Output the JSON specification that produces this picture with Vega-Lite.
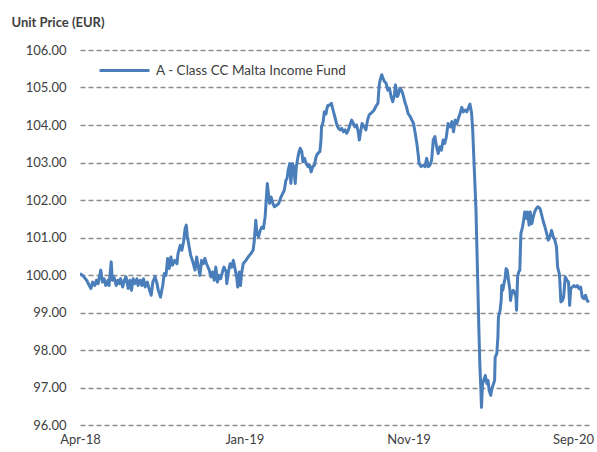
{
  "$schema": "https://vega.github.io/schema/vega-lite/v6.json",
  "width": 511,
  "height": 375,
  "autosize": {"type": "none"},
  "padding": {"left": 80, "top": 50, "right": 6, "bottom": 27},
  "background": "white",
  "config": {
    "font": "Lato",
    "view": {"stroke": null}
  },
  "data": {
    "values": [
      {"date": "2018-04-02", "price": 100.04},
      {"date": "2018-04-08", "price": 99.97},
      {"date": "2018-04-14", "price": 99.86},
      {"date": "2018-04-19", "price": 99.72},
      {"date": "2018-04-22", "price": 99.64},
      {"date": "2018-04-25", "price": 99.81},
      {"date": "2018-04-29", "price": 99.72},
      {"date": "2018-05-02", "price": 99.86},
      {"date": "2018-05-05", "price": 99.77},
      {"date": "2018-05-10", "price": 100.13},
      {"date": "2018-05-13", "price": 99.81},
      {"date": "2018-05-16", "price": 99.9},
      {"date": "2018-05-19", "price": 99.72},
      {"date": "2018-05-23", "price": 99.86},
      {"date": "2018-05-25", "price": 99.72},
      {"date": "2018-05-29", "price": 100.35},
      {"date": "2018-05-31", "price": 99.86},
      {"date": "2018-06-03", "price": 99.95},
      {"date": "2018-06-07", "price": 99.72},
      {"date": "2018-06-10", "price": 99.86},
      {"date": "2018-06-13", "price": 99.77},
      {"date": "2018-06-15", "price": 99.9},
      {"date": "2018-06-19", "price": 99.68},
      {"date": "2018-06-22", "price": 99.86},
      {"date": "2018-06-25", "price": 99.95},
      {"date": "2018-06-29", "price": 99.64},
      {"date": "2018-07-02", "price": 99.86},
      {"date": "2018-07-05", "price": 99.59},
      {"date": "2018-07-08", "price": 99.9},
      {"date": "2018-07-11", "price": 99.77},
      {"date": "2018-07-15", "price": 99.9},
      {"date": "2018-07-17", "price": 99.72},
      {"date": "2018-07-21", "price": 99.86},
      {"date": "2018-07-24", "price": 99.72},
      {"date": "2018-07-27", "price": 99.9},
      {"date": "2018-07-30", "price": 99.68},
      {"date": "2018-08-03", "price": 99.81},
      {"date": "2018-08-07", "price": 99.59},
      {"date": "2018-08-10", "price": 99.46},
      {"date": "2018-08-13", "price": 99.81},
      {"date": "2018-08-17", "price": 99.95},
      {"date": "2018-08-20", "price": 99.81},
      {"date": "2018-08-23", "price": 99.59},
      {"date": "2018-08-27", "price": 99.41},
      {"date": "2018-08-31", "price": 99.72},
      {"date": "2018-09-03", "price": 100.04},
      {"date": "2018-09-06", "price": 99.99},
      {"date": "2018-09-09", "price": 100.44},
      {"date": "2018-09-12", "price": 100.17},
      {"date": "2018-09-15", "price": 100.48},
      {"date": "2018-09-18", "price": 100.26},
      {"date": "2018-09-22", "price": 100.39},
      {"date": "2018-09-26", "price": 100.3},
      {"date": "2018-09-28", "price": 100.57},
      {"date": "2018-10-02", "price": 100.79},
      {"date": "2018-10-05", "price": 100.66},
      {"date": "2018-10-08", "price": 100.88},
      {"date": "2018-10-11", "price": 101.24},
      {"date": "2018-10-13", "price": 101.33},
      {"date": "2018-10-15", "price": 101.02},
      {"date": "2018-10-19", "price": 100.7},
      {"date": "2018-10-21", "price": 100.53},
      {"date": "2018-10-25", "price": 100.35},
      {"date": "2018-10-29", "price": 100.13},
      {"date": "2018-11-01", "price": 100.48},
      {"date": "2018-11-04", "price": 100.21},
      {"date": "2018-11-07", "price": 99.99},
      {"date": "2018-11-10", "price": 100.39},
      {"date": "2018-11-13", "price": 100.3},
      {"date": "2018-11-16", "price": 100.44},
      {"date": "2018-11-19", "price": 100.3},
      {"date": "2018-11-24", "price": 100.13},
      {"date": "2018-11-27", "price": 99.95},
      {"date": "2018-11-30", "price": 100.08},
      {"date": "2018-12-03", "price": 99.86},
      {"date": "2018-12-06", "price": 100.21},
      {"date": "2018-12-09", "price": 99.81},
      {"date": "2018-12-12", "price": 99.99},
      {"date": "2018-12-15", "price": 99.9},
      {"date": "2018-12-19", "price": 100.13},
      {"date": "2018-12-21", "price": 100.21},
      {"date": "2018-12-25", "price": 100.08},
      {"date": "2018-12-26", "price": 99.77},
      {"date": "2018-12-29", "price": 100.08},
      {"date": "2019-01-01", "price": 100.3},
      {"date": "2019-01-04", "price": 100.21},
      {"date": "2019-01-07", "price": 100.39},
      {"date": "2019-01-10", "price": 100.17},
      {"date": "2019-01-13", "price": 99.95},
      {"date": "2019-01-15", "price": 99.68},
      {"date": "2019-01-18", "price": 100.08},
      {"date": "2019-01-20", "price": 99.72},
      {"date": "2019-01-22", "price": 100.04},
      {"date": "2019-01-25", "price": 100.3},
      {"date": "2019-01-30", "price": 100.39},
      {"date": "2019-02-03", "price": 100.48},
      {"date": "2019-02-08", "price": 100.57},
      {"date": "2019-02-12", "price": 100.66},
      {"date": "2019-02-14", "price": 100.88},
      {"date": "2019-02-17", "price": 101.46},
      {"date": "2019-02-19", "price": 101.11},
      {"date": "2019-02-22", "price": 101.02},
      {"date": "2019-02-25", "price": 101.19},
      {"date": "2019-02-28", "price": 101.28},
      {"date": "2019-03-03", "price": 101.24},
      {"date": "2019-03-06", "price": 101.55},
      {"date": "2019-03-08", "price": 102.0},
      {"date": "2019-03-10", "price": 102.44},
      {"date": "2019-03-12", "price": 102.17},
      {"date": "2019-03-14", "price": 101.91},
      {"date": "2019-03-17", "price": 102.08},
      {"date": "2019-03-20", "price": 101.91},
      {"date": "2019-03-23", "price": 101.82},
      {"date": "2019-03-27", "price": 101.86},
      {"date": "2019-03-31", "price": 101.91},
      {"date": "2019-04-04", "price": 102.08},
      {"date": "2019-04-07", "price": 102.17},
      {"date": "2019-04-10", "price": 102.26},
      {"date": "2019-04-13", "price": 102.53},
      {"date": "2019-04-15", "price": 102.57},
      {"date": "2019-04-17", "price": 102.79},
      {"date": "2019-04-20", "price": 102.97},
      {"date": "2019-04-22", "price": 102.44},
      {"date": "2019-04-25", "price": 102.97},
      {"date": "2019-04-27", "price": 102.89},
      {"date": "2019-04-30", "price": 102.44},
      {"date": "2019-05-02", "price": 102.89},
      {"date": "2019-05-05", "price": 103.15},
      {"date": "2019-05-07", "price": 103.29},
      {"date": "2019-05-09", "price": 103.38},
      {"date": "2019-05-12", "price": 103.29},
      {"date": "2019-05-14", "price": 103.02},
      {"date": "2019-05-17", "price": 103.11},
      {"date": "2019-05-20", "price": 102.97},
      {"date": "2019-05-23", "price": 102.89},
      {"date": "2019-05-26", "price": 102.93},
      {"date": "2019-05-29", "price": 102.75},
      {"date": "2019-06-01", "price": 102.89},
      {"date": "2019-06-04", "price": 102.93},
      {"date": "2019-06-07", "price": 103.15},
      {"date": "2019-06-10", "price": 103.24},
      {"date": "2019-06-14", "price": 103.29},
      {"date": "2019-06-16", "price": 103.6},
      {"date": "2019-06-17", "price": 103.95},
      {"date": "2019-06-20", "price": 104.09},
      {"date": "2019-06-22", "price": 104.35},
      {"date": "2019-06-25", "price": 104.29},
      {"date": "2019-06-27", "price": 104.45},
      {"date": "2019-06-29", "price": 104.53},
      {"date": "2019-07-02", "price": 104.53},
      {"date": "2019-07-05", "price": 104.58},
      {"date": "2019-07-08", "price": 104.4},
      {"date": "2019-07-12", "price": 104.18},
      {"date": "2019-07-15", "price": 104.0},
      {"date": "2019-07-18", "price": 103.91},
      {"date": "2019-07-21", "price": 103.87},
      {"date": "2019-07-24", "price": 103.91},
      {"date": "2019-07-27", "price": 103.82},
      {"date": "2019-07-30", "price": 103.87},
      {"date": "2019-08-02", "price": 103.78},
      {"date": "2019-08-05", "price": 103.87},
      {"date": "2019-08-08", "price": 104.0},
      {"date": "2019-08-11", "price": 104.13},
      {"date": "2019-08-14", "price": 104.04},
      {"date": "2019-08-17", "price": 103.95},
      {"date": "2019-08-20", "price": 104.0},
      {"date": "2019-08-23", "price": 103.82},
      {"date": "2019-08-25", "price": 103.6},
      {"date": "2019-08-28", "price": 103.87},
      {"date": "2019-08-30", "price": 104.04},
      {"date": "2019-09-03", "price": 103.95},
      {"date": "2019-09-06", "price": 103.87},
      {"date": "2019-09-09", "price": 104.13},
      {"date": "2019-09-12", "price": 104.27},
      {"date": "2019-09-15", "price": 104.31},
      {"date": "2019-09-18", "price": 104.35},
      {"date": "2019-09-21", "price": 104.4},
      {"date": "2019-09-24", "price": 104.49},
      {"date": "2019-09-28", "price": 104.58},
      {"date": "2019-09-30", "price": 105.02},
      {"date": "2019-10-02", "price": 105.2},
      {"date": "2019-10-05", "price": 105.34},
      {"date": "2019-10-07", "price": 105.25},
      {"date": "2019-10-10", "price": 105.16},
      {"date": "2019-10-13", "price": 105.11},
      {"date": "2019-10-16", "price": 104.93},
      {"date": "2019-10-19", "price": 104.98},
      {"date": "2019-10-22", "price": 104.76},
      {"date": "2019-10-25", "price": 104.62},
      {"date": "2019-10-28", "price": 104.8},
      {"date": "2019-10-30", "price": 105.07},
      {"date": "2019-11-02", "price": 104.76},
      {"date": "2019-11-04", "price": 104.8},
      {"date": "2019-11-07", "price": 104.98},
      {"date": "2019-11-10", "price": 104.93},
      {"date": "2019-11-13", "price": 104.8},
      {"date": "2019-11-16", "price": 104.62},
      {"date": "2019-11-19", "price": 104.49},
      {"date": "2019-11-22", "price": 104.31},
      {"date": "2019-11-26", "price": 104.22},
      {"date": "2019-11-29", "price": 104.13},
      {"date": "2019-12-02", "price": 104.04},
      {"date": "2019-12-05", "price": 103.78},
      {"date": "2019-12-08", "price": 103.51},
      {"date": "2019-12-11", "price": 103.15},
      {"date": "2019-12-12", "price": 102.97},
      {"date": "2019-12-16", "price": 102.89},
      {"date": "2019-12-20", "price": 102.93},
      {"date": "2019-12-23", "price": 102.89},
      {"date": "2019-12-26", "price": 103.11},
      {"date": "2019-12-29", "price": 102.89},
      {"date": "2020-01-01", "price": 102.93},
      {"date": "2020-01-04", "price": 103.06},
      {"date": "2020-01-07", "price": 103.6},
      {"date": "2020-01-10", "price": 103.69},
      {"date": "2020-01-13", "price": 103.42},
      {"date": "2020-01-16", "price": 103.24},
      {"date": "2020-01-19", "price": 103.42},
      {"date": "2020-01-22", "price": 103.33},
      {"date": "2020-01-25", "price": 103.6},
      {"date": "2020-01-28", "price": 103.51},
      {"date": "2020-01-31", "price": 103.69},
      {"date": "2020-02-03", "price": 104.04},
      {"date": "2020-02-07", "price": 103.95},
      {"date": "2020-02-10", "price": 104.09},
      {"date": "2020-02-13", "price": 103.82},
      {"date": "2020-02-16", "price": 104.13},
      {"date": "2020-02-19", "price": 104.04},
      {"date": "2020-02-22", "price": 104.18},
      {"date": "2020-02-25", "price": 104.31},
      {"date": "2020-02-28", "price": 104.47},
      {"date": "2020-03-02", "price": 104.35},
      {"date": "2020-03-05", "price": 104.4},
      {"date": "2020-03-08", "price": 104.35},
      {"date": "2020-03-11", "price": 104.45},
      {"date": "2020-03-14", "price": 104.56},
      {"date": "2020-03-17", "price": 104.31},
      {"date": "2020-03-19", "price": 103.87},
      {"date": "2020-03-21", "price": 103.15},
      {"date": "2020-03-23", "price": 102.44},
      {"date": "2020-03-25", "price": 101.73},
      {"date": "2020-03-26", "price": 101.11},
      {"date": "2020-03-28", "price": 99.95},
      {"date": "2020-03-30", "price": 98.7},
      {"date": "2020-04-01", "price": 97.63},
      {"date": "2020-04-03", "price": 96.92},
      {"date": "2020-04-04", "price": 96.47},
      {"date": "2020-04-06", "price": 97.1},
      {"date": "2020-04-08", "price": 97.19},
      {"date": "2020-04-11", "price": 97.32},
      {"date": "2020-04-14", "price": 97.1},
      {"date": "2020-04-16", "price": 97.19},
      {"date": "2020-04-18", "price": 96.92},
      {"date": "2020-04-21", "price": 96.79},
      {"date": "2020-04-23", "price": 96.97},
      {"date": "2020-04-26", "price": 97.1},
      {"date": "2020-04-28", "price": 97.19},
      {"date": "2020-04-29", "price": 97.81},
      {"date": "2020-05-02", "price": 97.9},
      {"date": "2020-05-04", "price": 98.34},
      {"date": "2020-05-05", "price": 98.88},
      {"date": "2020-05-08", "price": 99.06},
      {"date": "2020-05-10", "price": 99.32},
      {"date": "2020-05-11", "price": 99.72},
      {"date": "2020-05-13", "price": 99.59},
      {"date": "2020-05-15", "price": 99.77},
      {"date": "2020-05-17", "price": 99.9},
      {"date": "2020-05-19", "price": 100.17},
      {"date": "2020-05-21", "price": 100.13},
      {"date": "2020-05-23", "price": 99.9},
      {"date": "2020-05-26", "price": 99.59},
      {"date": "2020-05-27", "price": 99.32},
      {"date": "2020-05-29", "price": 99.5},
      {"date": "2020-06-01", "price": 99.59},
      {"date": "2020-06-03", "price": 99.55},
      {"date": "2020-06-06", "price": 99.41},
      {"date": "2020-06-07", "price": 99.06},
      {"date": "2020-06-09", "price": 99.95},
      {"date": "2020-06-11", "price": 100.08},
      {"date": "2020-06-13", "price": 100.13},
      {"date": "2020-06-15", "price": 101.11},
      {"date": "2020-06-18", "price": 101.28},
      {"date": "2020-06-20", "price": 101.46},
      {"date": "2020-06-22", "price": 101.68},
      {"date": "2020-06-25", "price": 101.51},
      {"date": "2020-06-27", "price": 101.68},
      {"date": "2020-06-30", "price": 101.33},
      {"date": "2020-07-02", "price": 101.68},
      {"date": "2020-07-05", "price": 101.37},
      {"date": "2020-07-07", "price": 101.51},
      {"date": "2020-07-10", "price": 101.68},
      {"date": "2020-07-13", "price": 101.77},
      {"date": "2020-07-16", "price": 101.82},
      {"date": "2020-07-20", "price": 101.77},
      {"date": "2020-07-23", "price": 101.6},
      {"date": "2020-07-26", "price": 101.42},
      {"date": "2020-07-29", "price": 101.28},
      {"date": "2020-08-01", "price": 101.11},
      {"date": "2020-08-04", "price": 100.93},
      {"date": "2020-08-07", "price": 101.02},
      {"date": "2020-08-10", "price": 101.19},
      {"date": "2020-08-13", "price": 101.02},
      {"date": "2020-08-16", "price": 100.93},
      {"date": "2020-08-19", "price": 100.75},
      {"date": "2020-08-21", "price": 100.21},
      {"date": "2020-08-24", "price": 100.04},
      {"date": "2020-08-25", "price": 99.86},
      {"date": "2020-08-27", "price": 99.28},
      {"date": "2020-08-30", "price": 99.32},
      {"date": "2020-09-01", "price": 99.41},
      {"date": "2020-09-04", "price": 99.95},
      {"date": "2020-09-07", "price": 99.86},
      {"date": "2020-09-10", "price": 99.81},
      {"date": "2020-09-12", "price": 99.19},
      {"date": "2020-09-14", "price": 99.64},
      {"date": "2020-09-17", "price": 99.68},
      {"date": "2020-09-20", "price": 99.72},
      {"date": "2020-09-23", "price": 99.68},
      {"date": "2020-09-26", "price": 99.72},
      {"date": "2020-09-29", "price": 99.64},
      {"date": "2020-10-02", "price": 99.68},
      {"date": "2020-10-05", "price": 99.41},
      {"date": "2020-10-08", "price": 99.37},
      {"date": "2020-10-11", "price": 99.46},
      {"date": "2020-10-14", "price": 99.32},
      {"date": "2020-10-17", "price": 99.27}
    ]
  },
  "transform": [{"calculate": "'A - Class CC Malta Income Fund'", "as": "series"}],
  "mark": {"type": "line", "strokeWidth": 3, "strokeJoin": "round", "clip": true},
  "encoding": {
    "x": {
      "field": "date",
      "type": "temporal",
      "scale": {
        "type": "utc",
        "domain": [
          {"year": 2018, "month": 4, "date": 2, "utc": true},
          {"year": 2020, "month": 10, "date": 21, "utc": true}
        ]
      },
      "axis": {
        "title": null,
        "values": [
          {"year": 2018, "month": 4, "date": 2, "utc": true},
          {"year": 2019, "month": 1, "date": 27, "utc": true},
          {"year": 2019, "month": 11, "date": 23, "utc": true},
          {"year": 2020, "month": 9, "date": 18, "utc": true}
        ],
        "format": "%b-%y",
        "grid": false,
        "domain": false,
        "ticks": false,
        "labelFontSize": 13,
        "labelColor": "#404040",
        "labelPadding": 8,
        "labelFlush": false,
        "labelOverlap": false
      }
    },
    "y": {
      "field": "price",
      "type": "quantitative",
      "scale": {"domain": [96, 106], "nice": false, "zero": false},
      "axis": {
        "title": "Unit Price (EUR)",
        "titleAngle": 0,
        "titleAlign": "left",
        "titleBaseline": "alphabetic",
        "titleX": -69,
        "titleY": -24,
        "titleFontSize": 13,
        "titleFontWeight": "bold",
        "titleColor": "#404040",
        "values": [96, 97, 98, 99, 100, 101, 102, 103, 104, 105, 106],
        "format": ".2f",
        "domain": false,
        "ticks": false,
        "labelFontSize": 13,
        "labelColor": "#404040",
        "labelPadding": 14,
        "grid": true,
        "gridColor": "#8c8c8c",
        "gridDash": [5, 3],
        "gridWidth": 1.4
      }
    },
    "color": {
      "field": "series",
      "type": "nominal",
      "scale": {"range": ["#4A7EBB"]},
      "legend": {
        "title": null,
        "orient": "none",
        "legendX": 18,
        "legendY": -6,
        "padding": 0,
        "symbolType": "stroke",
        "symbolSize": 2500,
        "symbolStrokeWidth": 3,
        "labelFontSize": 13.5,
        "labelColor": "#404040",
        "labelOffset": 5,
        "labelLimit": 400
      }
    }
  }
}
